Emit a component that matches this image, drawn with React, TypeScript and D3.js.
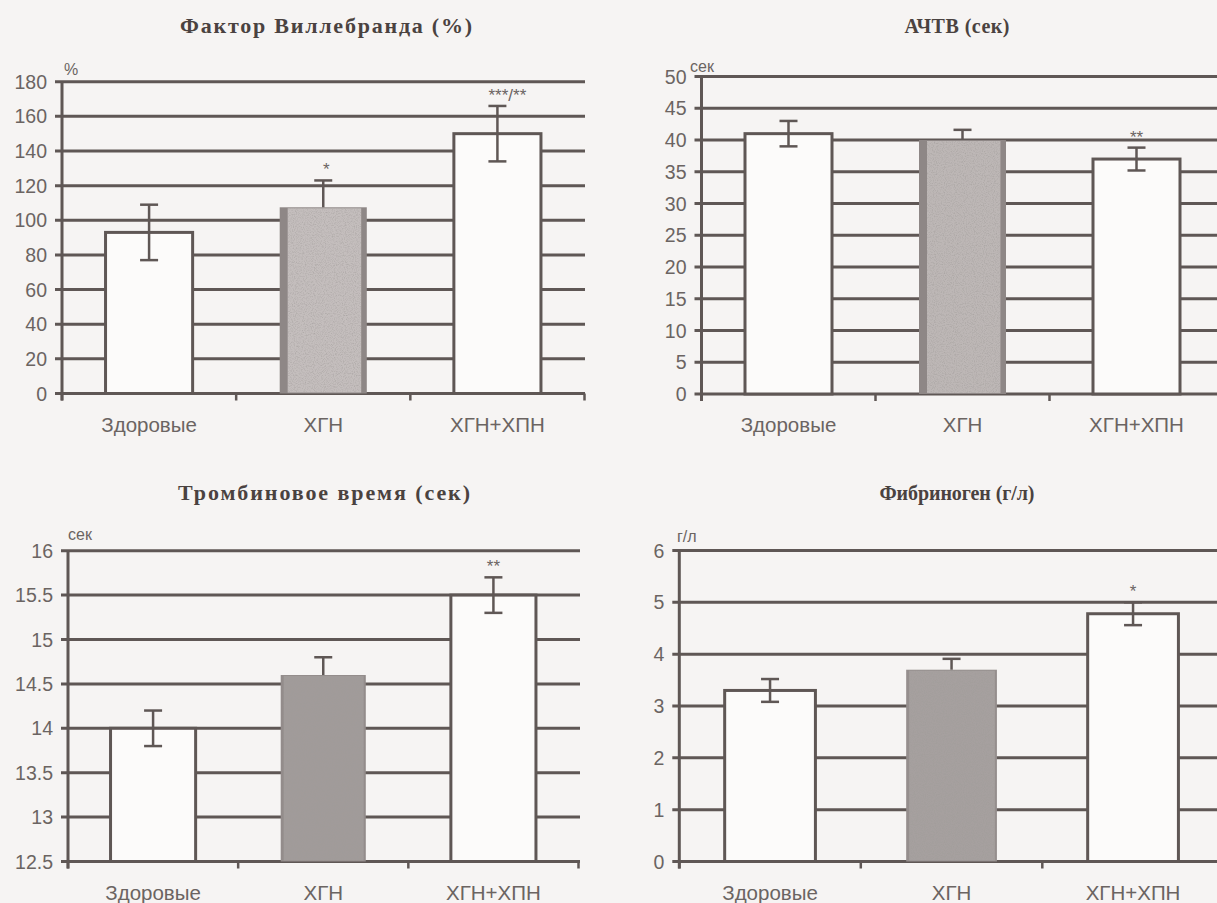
import React from "react";
import * as d3 from "d3";

const categories = ["Здоровые", "ХГН", "ХГН+ХПН"];

const vwfValues = [93, 107.5, 150];
const vwfErrors = [16, 15.5, 16];
const vwfSig = ["", "*", "***/**"];
const vwfTicks = [0, 20, 40, 60, 80, 100, 120, 140, 160, 180];

const apttValues = [41, 40, 37];
const apttErrors = [2, 1.6, 1.8];
const apttSig = ["", "", "**"];
const apttTicks = [0, 5, 10, 15, 20, 25, 30, 35, 40, 45, 50];

const ttValues = [14.0, 14.6, 15.5];
const ttErrors = [0.2, 0.2, 0.2];
const ttSig = ["", "", "**"];
const ttTicks = [12.5, 13, 13.5, 14, 14.5, 15, 15.5, 16];

const fibValues = [3.3, 3.7, 4.78];
const fibErrors = [0.22, 0.21, 0.22];
const fibSig = ["", "", "*"];
const fibTicks = [0, 1, 2, 3, 4, 5, 6];

const GRID = "#5f5755";
const TEXT = "#6b6462";
const TITLE = "#4a4240";
const BG = "#f6f4f3";
const WHITE = "#fcfbfa";

type PanelProps = {
  title: string;
  titleX: number;
  titleY: number;
  titleSize: number;
  titleLen?: number;
  unit: string;
  unitX: number;
  unitY: number;
  values: number[];
  errors: number[];
  sig: string[];
  ticks: number[];
  tickFmt: (v: number) => string;
  x0: number;
  x1: number;
  gridEnd: number;
  yTop: number;
  yBot: number;
  grayOuter: string;
  grayInner: string;
  grayInset: number;
  sigOffsets: number[];
};

function Panel(p: PanelProps) {
  const x = d3
    .scaleBand<string>()
    .domain(categories)
    .range([p.x0, p.x1])
    .paddingInner(0.5)
    .paddingOuter(0.25);
  const y = d3
    .scaleLinear()
    .domain([p.ticks[0], p.ticks[p.ticks.length - 1]])
    .range([p.yBot, p.yTop]);
  const step = x.step();
  const bw = x.bandwidth();
  const base = p.ticks[0];
  return (
    <g>
      <text
        x={p.titleX}
        y={p.titleY}
        textAnchor="middle"
        fontFamily="'Liberation Serif', 'Times New Roman', serif"
        fontWeight="bold"
        fontSize={p.titleSize}
        fill={TITLE}
        {...(p.titleLen ? { textLength: p.titleLen, lengthAdjust: "spacing" } : {})}
      >
        {p.title}
      </text>
      {p.ticks.map((t) => (
        <line
          key={"g" + t}
          x1={p.x0 - 7}
          x2={p.gridEnd}
          y1={y(t)}
          y2={y(t)}
          stroke={GRID}
          strokeWidth={3}
        />
      ))}
      {p.ticks.map((t) => (
        <text
          key={"l" + t}
          x={p.x0 - 15}
          y={y(t)}
          dy="0.36em"
          textAnchor="end"
          fontFamily="'Liberation Sans', Arial, sans-serif"
          fontSize={19.5}
          fill={TEXT}
        >
          {p.tickFmt(t)}
        </text>
      ))}
      <text
        x={p.unitX}
        y={p.unitY}
        fontFamily="'Liberation Sans', Arial, sans-serif"
        fontSize={16}
        fill={TEXT}
      >
        {p.unit}
      </text>
      {[0, 1, 2, 3].map((i) => (
        <line
          key={"xt" + i}
          x1={p.x0 + i * step}
          x2={p.x0 + i * step}
          y1={p.yBot}
          y2={p.yBot + 7}
          stroke={GRID}
          strokeWidth={2.5}
        />
      ))}
      {categories.map((c, i) => {
        const bx = x(c)!;
        const top = y(p.values[i]);
        const h = y(base) - top;
        if (i === 1) {
          return (
            <g key={"b" + c}>
              <rect x={bx} y={top} width={bw} height={h} fill={p.grayOuter} />
              <rect
                x={bx + p.grayInset}
                y={top + 1}
                width={bw - p.grayInset * 1.7}
                height={h - 2}
                fill={p.grayInner}
                filter="url(#speckle)"
              />
            </g>
          );
        }
        return (
          <rect
            key={"b" + c}
            x={bx}
            y={top}
            width={bw}
            height={h}
            fill={WHITE}
            stroke={GRID}
            strokeWidth={3}
          />
        );
      })}
      <line x1={p.x0} x2={p.x0} y1={p.yTop} y2={p.yBot + 7} stroke={GRID} strokeWidth={3} />
      {categories.map((c, i) => {
        const cx = x(c)! + bw / 2;
        const hi = y(p.values[i] + p.errors[i]);
        const lo = i === 1 ? y(p.values[i]) : y(p.values[i] - p.errors[i]);
        return (
          <g key={"e" + c} stroke={GRID} strokeWidth={2.5}>
            <line x1={cx} x2={cx} y1={hi} y2={lo} />
            <line x1={cx - 9} x2={cx + 9} y1={hi} y2={hi} />
            {i !== 1 && <line x1={cx - 9} x2={cx + 9} y1={lo} y2={lo} />}
          </g>
        );
      })}
      {categories.map((c, i) =>
        p.sig[i] ? (
          <text
            key={"s" + c}
            x={x(c)! + bw / 2 + p.sigOffsets[i]}
            y={y(p.values[i] + p.errors[i]) - 5}
            textAnchor="middle"
            fontFamily="'Liberation Sans', Arial, sans-serif"
            fontSize={17}
            fill={TEXT}
          >
            {p.sig[i]}
          </text>
        ) : null
      )}
      {categories.map((c) => (
        <text
          key={"c" + c}
          x={x(c)! + bw / 2}
          y={p.yBot + 38}
          textAnchor="middle"
          fontFamily="'Liberation Sans', Arial, sans-serif"
          fontSize={20.5}
          fill={TEXT}
        >
          {c}
        </text>
      ))}
    </g>
  );
}

export default function App() {
  const fmtInt = (v: number) => String(v);
  return (
    <div style={{ position: "absolute", left: 0, top: 0 }}>
      <svg width={1217} height={903} style={{ display: "block" }}>
        <defs>
          <filter id="speckle" x="0" y="0" width="100%" height="100%">
            <feTurbulence type="fractalNoise" baseFrequency="0.9" numOctaves="2" seed="3" result="n" />
            <feColorMatrix
              in="n"
              type="matrix"
              values="0 0 0 0 0.35  0 0 0 0 0.33  0 0 0 0 0.32  0 0 0 1.4 -0.6"
              result="dots"
            />
            <feComposite in="dots" in2="SourceGraphic" operator="in" result="d2" />
            <feMerge>
              <feMergeNode in="SourceGraphic" />
              <feMergeNode in="d2" />
            </feMerge>
          </filter>
        </defs>
        <rect x={0} y={0} width={1217} height={903} fill={BG} />
        <Panel
          title="Фактор  Виллебранда (%)"
          titleX={326}
          titleY={33}
          titleSize={22}
          titleLen={292}
          unit="%"
          unitX={64}
          unitY={75}
          values={vwfValues}
          errors={vwfErrors}
          sig={vwfSig}
          ticks={vwfTicks}
          tickFmt={fmtInt}
          x0={62}
          x1={584.5}
          gridEnd={585}
          yTop={81.7}
          yBot={393.5}
          grayOuter="#8e8786"
          grayInner="#c4bebd"
          grayInset={8}
          sigOffsets={[0, 3, 10]}
        />
        <Panel
          title="АЧТВ (сек)"
          titleX={957}
          titleY={33}
          titleSize={20}
          titleLen={105}
          unit="сек"
          unitX={690}
          unitY={72}
          values={apttValues}
          errors={apttErrors}
          sig={apttSig}
          ticks={apttTicks}
          tickFmt={fmtInt}
          x0={701.5}
          x1={1223.5}
          gridEnd={1217}
          yTop={76.5}
          yBot={394}
          grayOuter="#8e8786"
          grayInner="#bdb7b6"
          grayInset={8}
          sigOffsets={[0, 0, 0]}
        />
        <Panel
          title="Тромбиновое время (сек)"
          titleX={324}
          titleY={500}
          titleSize={22}
          titleLen={292}
          unit="сек"
          unitX={68}
          unitY={540}
          values={ttValues}
          errors={ttErrors}
          sig={ttSig}
          ticks={ttTicks}
          tickFmt={(v) => String(v)}
          x0={68}
          x1={578.5}
          gridEnd={580}
          yTop={550.7}
          yBot={861.5}
          grayOuter="#938c8b"
          grayInner="#a19b9a"
          grayInset={3}
          sigOffsets={[0, 0, 0]}
        />
        <Panel
          title="Фибриноген (г/л)"
          titleX={957}
          titleY={500}
          titleSize={20}
          titleLen={155}
          unit="г/л"
          unitX={677}
          unitY={542}
          values={fibValues}
          errors={fibErrors}
          sig={fibSig}
          ticks={fibTicks}
          tickFmt={fmtInt}
          x0={679.3}
          x1={1223.8}
          gridEnd={1217}
          yTop={550.5}
          yBot={861.5}
          grayOuter="#958e8d"
          grayInner="#a6a09f"
          grayInset={3}
          sigOffsets={[0, 0, 0]}
        />
      </svg>
    </div>
  );
}
